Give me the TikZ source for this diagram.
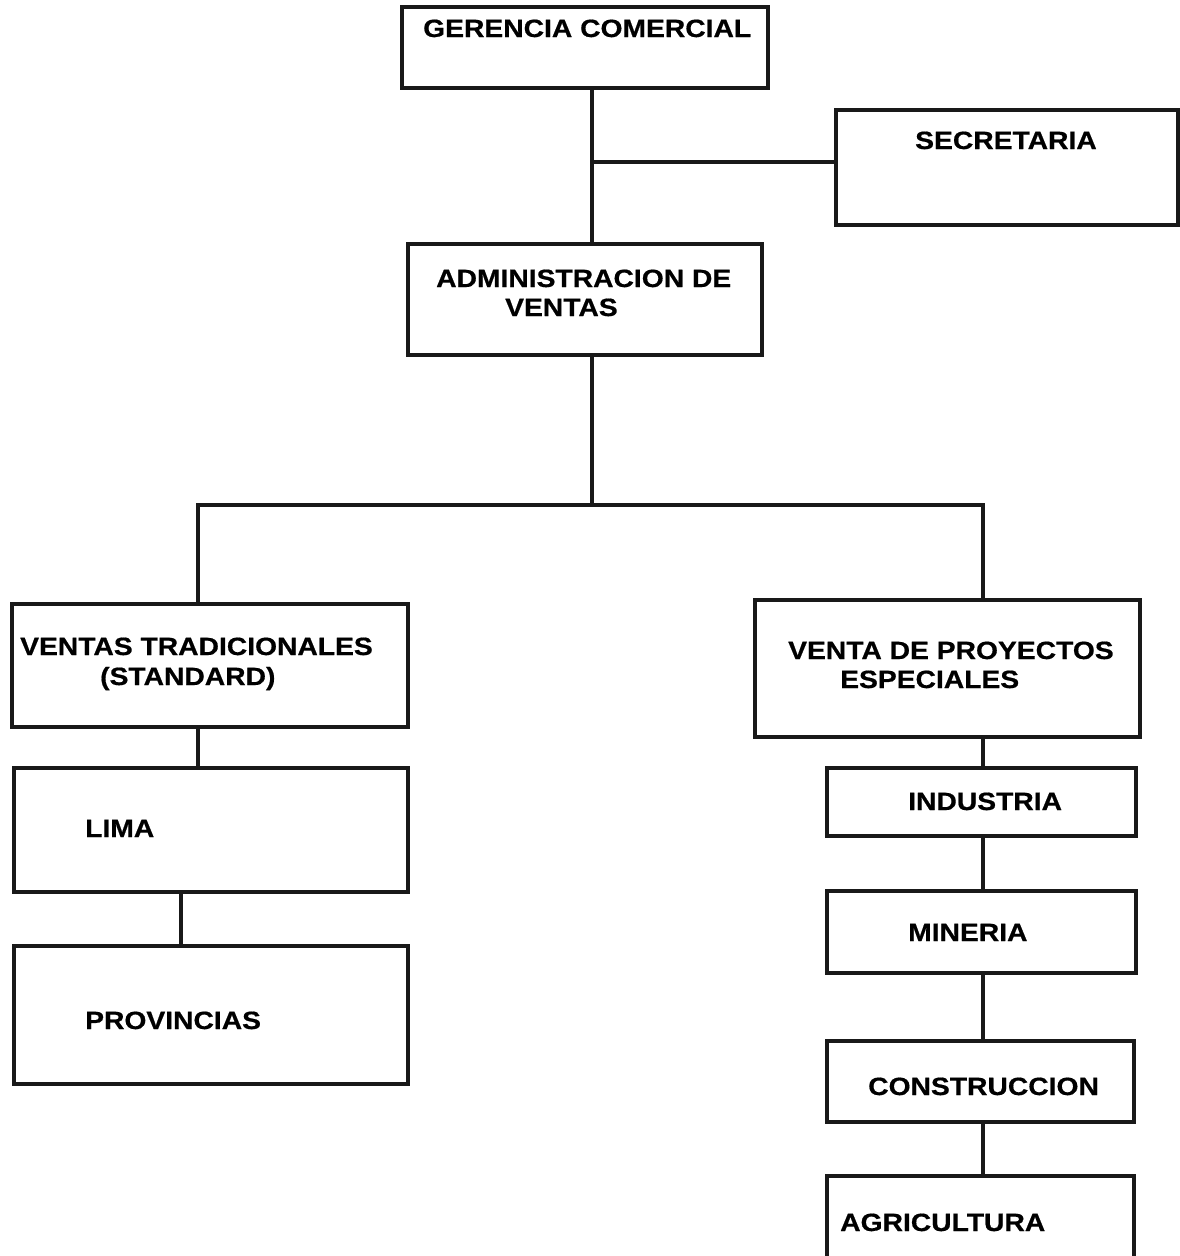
\documentclass[tikz,border=0pt]{standalone}
\usepackage{fontspec}
\newfontfamily\lbl{Liberation Sans}[FakeStretch=1.13,FakeBold=0.6]
\begin{document}
\begin{tikzpicture}[x=1pt,y=-1pt,
  box/.style={draw=black!90,line width=3.2pt,inner sep=0pt,minimum width=#1},
  txt/.style={anchor=base west,inner sep=0pt,font=\lbl\bfseries\fontsize{25}{30}\selectfont},
  conn/.style={draw=black!90,line width=3.2pt}]
\useasboundingbox (0,0) rectangle (1180,1256);
\clip (0,0) rectangle (1180,1256);
% boxes
\node[box=366pt,minimum height=81pt] (ger) at (585,47.5) {};
\node[box=342pt,minimum height=115pt] (sec) at (1007,167.5) {};
\node[box=354pt,minimum height=111pt] (adm) at (585,299.5) {};
\node[box=396pt,minimum height=123pt] (vt) at (210,665.5) {};
\node[box=394pt,minimum height=124pt] (lima) at (211,830) {};
\node[box=394pt,minimum height=138pt] (prov) at (211,1015) {};
\node[box=385pt,minimum height=137pt] (vp) at (947.5,668.5) {};
\node[box=309pt,minimum height=68pt] (ind) at (981.5,802) {};
\node[box=309pt,minimum height=82pt] (min) at (981.5,932) {};
\node[box=307pt,minimum height=81pt] (cons) at (980.5,1081.5) {};
\node[box=307pt,minimum height=86pt] (agr) at (980.5,1219) {};
% texts
\node[txt] (tger) at (423,37) {GERENCIA COMERCIAL};
\node[txt] (tsec) at (915,149) {SECRETARIA};
\node[txt] (tadm1) at (436,287) {ADMINISTRACION DE};
\node[txt] (tadm2) at (505,316) {VENTAS};
\node[txt] (tvt1) at (20,655) {VENTAS TRADICIONALES};
\node[txt] (tvt2) at (100,685) {(STANDARD)};
\node[txt] (tlima) at (85,837) {LIMA};
\node[txt] (tprov) at (85,1029) {PROVINCIAS};
\node[txt] (tvp1) at (788,659) {VENTA DE PROYECTOS};
\node[txt] (tvp2) at (840,688) {ESPECIALES};
\node[txt] (tind) at (908,810) {INDUSTRIA};
\node[txt] (tmin) at (908,941) {MINERIA};
\node[txt] (tcons) at (868,1095) {CONSTRUCCION};
\node[txt] (tagr) at (840,1231) {AGRICULTURA};
% connectors
\coordinate (tk) at (592,162);
\coordinate (bl) at (198,505);
\coordinate (br) at (983,505);
\coordinate (lp) at (181,900);
\draw[conn] (tk |- ger.south) -- (tk |- adm.north);
\draw[conn] (tk) -- (sec.west |- tk);
\draw[conn] (tk |- adm.south) -- (tk |- bl);
\draw[conn] (vt.north -| bl) -- (bl) -- (br) -- (vp.north -| br);
\draw[conn] (bl |- vt.south) -- (bl |- lima.north);
\draw[conn] (lp |- lima.south) -- (lp |- prov.north);
\draw[conn] (br |- vp.south) -- (br |- ind.north);
\draw[conn] (br |- ind.south) -- (br |- min.north);
\draw[conn] (br |- min.south) -- (br |- cons.north);
\draw[conn] (br |- cons.south) -- (br |- agr.north);
\end{tikzpicture}
\end{document}
